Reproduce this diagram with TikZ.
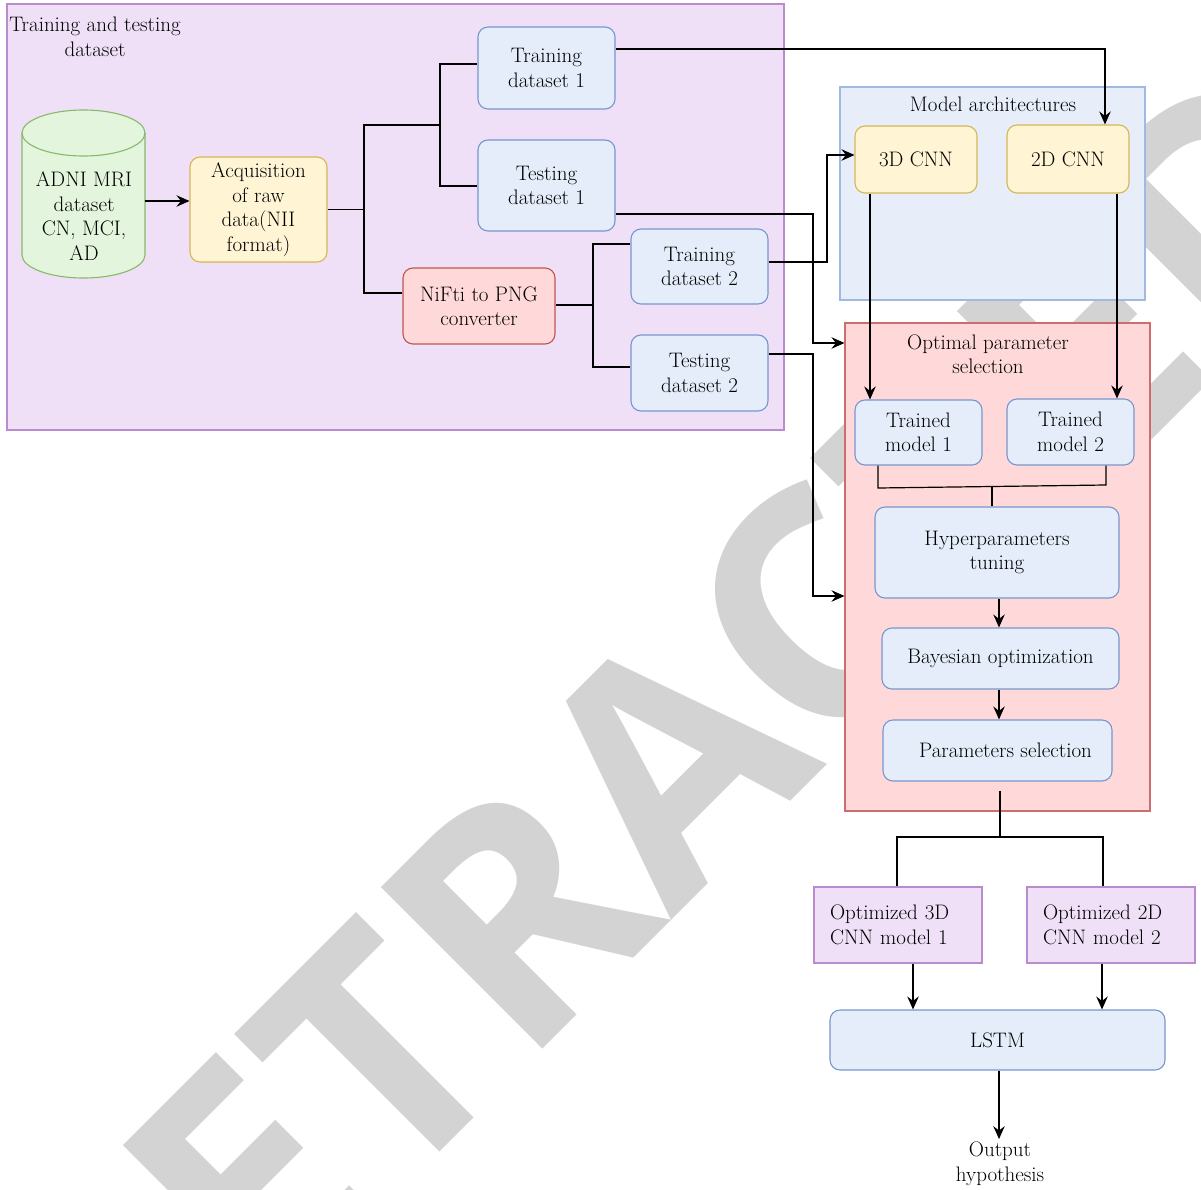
\documentclass[tikz,border=0pt]{standalone}
\usepackage{fontspec}
\newfontfamily\wmfont{Open Sans}
\usetikzlibrary{arrows.meta,calc}
\definecolor{wmgray}{RGB}{211,211,211}
\definecolor{pfill}{RGB}{239,224,248}
\definecolor{pdraw}{RGB}{185,140,205}
\definecolor{bfill}{RGB}{229,237,250}
\definecolor{bdraw}{RGB}{120,150,205}
\definecolor{cfill}{RGB}{231,238,250}
\definecolor{cdraw}{RGB}{160,185,225}
\definecolor{yfill}{RGB}{255,244,212}
\definecolor{ydraw}{RGB}{214,182,86}
\definecolor{gfill}{RGB}{227,245,220}
\definecolor{gdraw}{RGB}{135,185,105}
\definecolor{rfill}{RGB}{255,217,217}
\definecolor{rdraw}{RGB}{190,85,80}
\definecolor{ocdraw}{RGB}{205,110,110}
\newcommand\mainfs{\fontsize{21}{24.5}\selectfont}
\tikzset{
  conn/.style={draw=black, line width=1.2pt},
  arr/.style={conn, -{Stealth[length=13pt,width=11.5pt,inset=4.5pt]}},
  txt/.style={align=center, inner sep=1pt, font=\mainfs},
  box/.style={txt, draw, rounded corners=10pt, line width=1.1pt},
  bluebox/.style={box, fill=bfill, draw=bdraw},
  yellowbox/.style={box, fill=yfill, draw=ydraw},
  redbox/.style={box, fill=rfill, draw=rdraw},
  purplebox/.style={txt, align=left, text width=136pt, inner xsep=16pt, draw=pdraw, fill=pfill, line width=1.1pt},
  container/.style={draw, line width=1.1pt, inner sep=0pt},
}
\begin{document}
\begin{tikzpicture}[x=1pt,y=-1pt]
\useasboundingbox (0,0) rectangle (1201,1190);
\clip (0,0) rectangle (1201,1190);
\fill[white] (0,0) rectangle (1201,1190);

% watermark
\begin{scope}[shift={(115,1477)}]
\node[rotate=45, anchor=base west, inner sep=0pt, text=wmgray,
      font={\wmfont\bfseries\fontsize{320}{320}\selectfont}] (wm) at (0,0) {RETRACTED};
\end{scope}

% containers
\node[container, fill=pfill, draw=pdraw, minimum width=777, minimum height=426] (tt) at (395.5,217) {};
\node[txt] (tttitle) at (95,37) {Training and testing\\dataset};
\node[container, fill=cfill, draw=cdraw, minimum width=305, minimum height=213] (ma) at (992.5,193.5) {};
\node[txt] (matitle) at (993,104) {Model architectures};
\node[container, fill=rfill, draw=ocdraw, minimum width=305, minimum height=488] (op) at (997.5,567) {};
\node[txt] (optitle) at (988,354) {Optimal parameter\\selection};

% cylinder
\path[fill=gfill, draw=gdraw, line width=1.1pt]
  (22,133) -- (22,255) arc[start angle=180, end angle=0, x radius=61.5, y radius=23]
  -- (145,133) arc[start angle=0, end angle=-180, x radius=61.5, y radius=23] -- cycle;
\draw[draw=gdraw, line width=1.1pt] (145,133) arc[start angle=0, end angle=180, x radius=61.5, y radius=23];
\node[txt] (adni) at (84,216) {ADNI MRI\\dataset\\CN, MCI,\\AD};
\coordinate (cylR) at (145,201);

% boxes
\node[yellowbox, minimum width=137, minimum height=105] (acq) at (258.5,209.5) {Acquisition\\of raw\\data(NII\\format)};
\node[bluebox, minimum width=137, minimum height=82] (tr1) at (546.5,68) {Training\\dataset 1};
\node[bluebox, minimum width=137, minimum height=91] (te1) at (546.5,185.5) {Testing\\dataset 1};
\node[redbox, minimum width=152, minimum height=76] (nifti) at (479,306) {NiFti to PNG\\converter};
\node[bluebox, minimum width=137, minimum height=75] (tr2) at (699.5,266.5) {Training\\dataset 2};
\node[bluebox, minimum width=137, minimum height=76] (te2) at (699.5,373) {Testing\\dataset 2};
\node[yellowbox, minimum width=122, minimum height=67] (cnn3) at (916,159.5) {3D CNN};
\node[yellowbox, minimum width=122, minimum height=68] (cnn2) at (1068,159) {2D CNN};
\node[bluebox, minimum width=127, minimum height=65] (tm1) at (918.5,432.5) {Trained\\model 1};
\node[bluebox, minimum width=127, minimum height=66] (tm2) at (1070.5,432) {Trained\\model 2};
\node[bluebox, minimum width=244, minimum height=91] (hyp) at (997,552.5) {Hyperparameters\\tuning};
\node[bluebox, minimum width=237, minimum height=61] (bay) at (1000.5,658.5) {Bayesian optimization};
\node[bluebox, minimum width=229, minimum height=61] (ps) at (997.5,750.5) {\hspace*{16pt}Parameters selection};
\node[purplebox, minimum height=76] (o3) at (898,925) {Optimized 3D\\CNN model 1};
\node[purplebox, minimum height=76] (o2) at (1111,925) {Optimized 2D\\CNN model 2};
\node[bluebox, minimum width=335, minimum height=60] (lstm) at (997.5,1040) {LSTM};
\node[txt, inner sep=3pt] (out) at (1000,1164) {Output\\hypothesis};

% connectors
\draw[arr] (cylR) -- (cylR -| acq.west);
\coordinate (j1) at (364,209.5);
\coordinate (j2) at (440,125);
\coordinate (j3) at (593,305);
\draw[conn] (acq.east) -- (j1);
\draw[conn] (j1) |- (j2);
\draw[conn] (j1) |- (nifti.west |- 0,293);
\draw[conn] (j2) |- (tr1.west |- 0,64);
\draw[conn] (j2) |- (te1.west |- 0,186);
\draw[conn] (nifti.east |- j3) -- (j3);
\draw[conn] (j3) |- (tr2.west |- 0,244);
\draw[conn] (j3) |- (te2.west |- 0,367);

\draw[arr] (tr1.east |- 0,49) -| (cnn2.north -| 1105,0);
\draw[arr] (te1.east |- 0,214) -| (813,343) -- (op.west |- 0,343);
\draw[arr] (tr2.east |- 0,262) -| (827,155) -- (cnn3.west |- 0,155);
\draw[arr] (te2.east |- 0,354) -| (813,596) -- (op.west |- 0,596);

\draw[arr] (cnn3.south -| 870,0) -- (tm1.north -| 870,0);
\draw[arr] (cnn2.south -| 1117,0) -- (tm2.north -| 1117,0);
\draw[conn] (tm1.south -| 878,0) -- (878,488) -- (1106,485) -- (tm2.south -| 1106,0);
\draw[conn] (992,486.5) -- (hyp.north -| 992,0);
\draw[arr] (hyp.south -| 999,0) -- (bay.north -| 999,0);
\draw[arr] (bay.south -| 999,0) -- (ps.north -| 999,0);
\draw[conn] ($(ps.south)+(2.5,9)$) -- (1000,837);
\draw[conn] (o3.north -| 897,0) -- (897,837) -- (1103,837) -- (o2.north -| 1103,0);
\draw[arr] (o3.south -| 913,0) -- (lstm.north -| 913,0);
\draw[arr] (o2.south -| 1102,0) -- (lstm.north -| 1102,0);
\draw[arr] (lstm.south -| 999,0) -- (out.north -| 999,0);
\end{tikzpicture}
\end{document}
